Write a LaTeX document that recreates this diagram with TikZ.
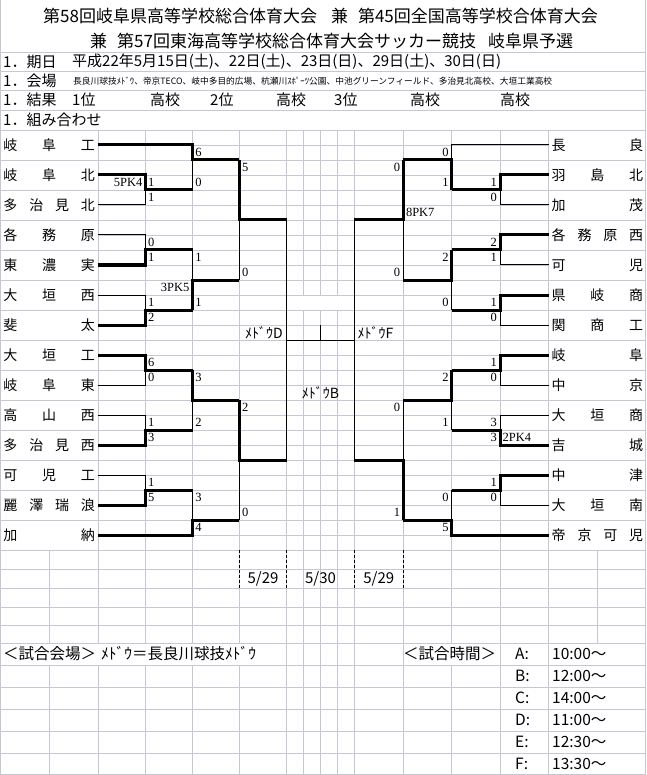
\documentclass[tikz,border=0pt]{standalone}
\usepackage{fontspec}
\setmainfont{Noto Sans CJK JP}
\newfontfamily\scorefont{Liberation Serif}
\definecolor{gridc}{RGB}{198,198,212}
\newcommand\spreadname[1]{\makebox[91.5pt]{#1}}
\begin{document}
\begin{tikzpicture}[x=1pt,y=-1pt,
  grid/.style={draw=gridc, line width=0.8pt},
  thk/.style={draw=black, line width=3pt},
  thn/.style={draw=black, line width=1pt},
  teamL/.style={anchor=west, minimum width=98pt, minimum height=30pt, inner sep=0pt, font=\fontsize{14}{16}\selectfont},
  teamR/.style={anchor=west, minimum width=97.5pt, minimum height=30pt, inner sep=0pt, font=\fontsize{14}{16}\selectfont},
  scL/.style={anchor=west, inner sep=0pt, font=\scorefont\fontsize{12.5}{13}\selectfont},
  scR/.style={anchor=east, inner sep=0pt, font=\scorefont\fontsize{12.5}{13}\selectfont},
  info/.style={anchor=west, inner sep=0pt, font=\fontsize{15}{17}\selectfont},
  lbl/.style={inner sep=0pt, font=\fontsize{14}{16}\selectfont},
  btm/.style={anchor=west, inner sep=0pt, font=\fontsize{15.5}{17}\selectfont},
  dashln/.style={draw=black, line width=0.8pt, dash pattern=on 3pt off 2pt}
]
\useasboundingbox (0,0) rectangle (646,775);
\fill[white] (0,0) rectangle (646,775);
% ---------- grid ----------
\foreach \yy in {52,71,90,110,130} \draw[grid] (0,\yy) -- (646,\yy);
\foreach \k in {1,...,14} {\draw[grid] (0,130+30*\k) -- (98,130+30*\k); \draw[grid] (548.5,130+30*\k) -- (646,130+30*\k);}
\foreach \j in {1,...,28} \draw[grid] (98,130+15*\j) -- (548.5,130+15*\j);
\foreach \xx in {98,145.5,192.7,239.3,286.7,354.3,403.3,451.7,500,548.5} \draw[grid] (\xx,130) -- (\xx,550);
\foreach \xx in {303.5,320.5,337.5} {\draw[grid] (\xx,130) -- (\xx,295); \draw[grid] (\xx,310) -- (\xx,550);}
\foreach \yy in {569,588,607,625,643,665,687,709,731,753,774} \draw[grid] (0,\yy) -- (646,\yy);
\foreach \xx in {49,98,145.5,192.7,239.3,286.7,303.5,320.5,337.5,354.3,403.3,451.7,500,548.5,597} \draw[grid] (\xx,550) -- (\xx,643);
\foreach \xx in {286.7,303.5,320.5,337.5,354.3,403.3,500,548.5} \draw[grid] (\xx,643) -- (\xx,665);
\foreach \xx in {49,98,145.5,192.7,239.3,286.7,303.5,320.5,337.5,354.3,403.3,451.7,500,548.5} \draw[grid] (\xx,665) -- (\xx,774);
\draw[grid] (0.5,0) -- (0.5,774);
\draw[grid] (645.5,0) -- (645.5,774);
% ---------- header ----------
\node[anchor=west, inner sep=0pt, font=\fontsize{17}{19}\selectfont] (title1) at (43,16.5) {第58回岐阜県高等学校総合体育大会\hspace{14pt}兼\hspace{10pt}第45回全国高等学校合体育大会};
\node[anchor=west, inner sep=0pt, font=\fontsize{17}{19}\selectfont] (title2) at (90,41) {兼\hspace{10pt}第57回東海高等学校総合体育大会サッカー競技\hspace{12pt}岐阜県予選};
\node[info] (k1) at (3,61.5) {1．期日};
\node[info] (k1v) at (72,61.5) {平成22年5月15日(土)、22日(土)、23日(日)、29日(土)、30日(日)};
\node[info] (k2) at (3,80.5) {1．会場};
\node[anchor=west, inner sep=0pt] (k2v) at (73,81) {\resizebox{479pt}{!}{\fontsize{10}{12}\selectfont 長良川球技ﾒﾄﾞｳ、帝京TECO、岐中多目的広場、杭瀬川ｽﾎﾟｰﾂ公園、中池グリーンフィールド、多治見北高校、大垣工業高校}};
\node[info] (k3) at (3,100) {1．結果};
\node[info] (r1) at (72,100) {1位};
\node[info] (hk1) at (150,100) {高校};
\node[info] (r2) at (210,100) {2位};
\node[info] (hk2) at (276,100) {高校};
\node[info] (r3) at (334,100) {3位};
\node[info] (hk3) at (410,100) {高校};
\node[info] (hk4) at (500,100) {高校};
\node[info] (k4) at (3,119.5) {1．組み合わせ};
% ---------- teams ----------
\node[teamL] (L0) at (0,145) {\spreadname{岐\hfill 阜\hfill 工}};
\node[teamL] (L1) at (0,175) {\spreadname{岐\hfill 阜\hfill 北}};
\node[teamL] (L2) at (0,205) {\spreadname{多\hfill 治\hfill 見\hfill 北}};
\node[teamL] (L3) at (0,235) {\spreadname{各\hfill 務\hfill 原}};
\node[teamL] (L4) at (0,265) {\spreadname{東\hfill 濃\hfill 実}};
\node[teamL] (L5) at (0,295) {\spreadname{大\hfill 垣\hfill 西}};
\node[teamL] (L6) at (0,325) {\spreadname{斐\hfill 太}};
\node[teamL] (L7) at (0,355) {\spreadname{大\hfill 垣\hfill 工}};
\node[teamL] (L8) at (0,385) {\spreadname{岐\hfill 阜\hfill 東}};
\node[teamL] (L9) at (0,415) {\spreadname{高\hfill 山\hfill 西}};
\node[teamL] (L10) at (0,445) {\spreadname{多\hfill 治\hfill 見\hfill 西}};
\node[teamL] (L11) at (0,475) {\spreadname{可\hfill 児\hfill 工}};
\node[teamL] (L12) at (0,505) {\spreadname{麗\hfill 澤\hfill 瑞\hfill 浪}};
\node[teamL] (L13) at (0,535) {\spreadname{加\hfill 納}};
\node[teamR] (R0) at (548.5,145) {\spreadname{長\hfill 良}};
\node[teamR] (R1) at (548.5,175) {\spreadname{羽\hfill 島\hfill 北}};
\node[teamR] (R2) at (548.5,205) {\spreadname{加\hfill 茂}};
\node[teamR] (R3) at (548.5,235) {\spreadname{各\hfill 務\hfill 原\hfill 西}};
\node[teamR] (R4) at (548.5,265) {\spreadname{可\hfill 児}};
\node[teamR] (R5) at (548.5,295) {\spreadname{県\hfill 岐\hfill 商}};
\node[teamR] (R6) at (548.5,325) {\spreadname{関\hfill 商\hfill 工}};
\node[teamR] (R7) at (548.5,355) {\spreadname{岐\hfill 阜}};
\node[teamR] (R8) at (548.5,385) {\spreadname{中\hfill 京}};
\node[teamR] (R9) at (548.5,415) {\spreadname{大\hfill 垣\hfill 商}};
\node[teamR] (R10) at (548.5,445) {\spreadname{吉\hfill 城}};
\node[teamR] (R11) at (548.5,475) {\spreadname{中\hfill 津}};
\node[teamR] (R12) at (548.5,505) {\spreadname{大\hfill 垣\hfill 南}};
\node[teamR] (R13) at (548.5,535) {\spreadname{帝\hfill 京\hfill 可\hfill 児}};
% ---------- junctions ----------
\coordinate (mA) at (145.5,190); \coordinate (mB) at (145.5,250); \coordinate (mC) at (145.5,310);
\coordinate (mD) at (145.5,370); \coordinate (mE) at (145.5,430); \coordinate (mF) at (145.5,490);
\coordinate (mG) at (192.7,160); \coordinate (mH) at (192.7,280); \coordinate (mI) at (192.7,400); \coordinate (mJ) at (192.7,520);
\coordinate (mK) at (239.3,220); \coordinate (mL) at (239.3,460);
\coordinate (mSL) at (286.7,340);
\coordinate (nA) at (500,190); \coordinate (nB) at (500,250); \coordinate (nC) at (500,310);
\coordinate (nD) at (500,370); \coordinate (nE) at (500,430); \coordinate (nF) at (500,490);
\coordinate (nG) at (451.7,160); \coordinate (nH) at (451.7,280); \coordinate (nI) at (451.7,400); \coordinate (nJ) at (451.7,520);
\coordinate (nK) at (403.3,220); \coordinate (nL) at (403.3,460);
\coordinate (mSR) at (354.3,340);
\coordinate (fin) at (320.5,340); \coordinate (fintop) at (320.5,325);
% ---------- left bracket ----------
\draw[thn] (L2.east) -| (mA);
\draw[thk] (L1.east) -| (mA) -- (mG |- mA);
\draw[thn] (mG |- mA) -- (mG);
\draw[thk] (L0.east) -| (mG) -- (mK |- mG);
\draw[thn] (L3.east) -| (mB);
\draw[thk] (L4.east) -| (mB) -- (mH |- mB);
\draw[thn] (L5.east) -| (mC);
\draw[thk] (L6.east) -| (mC) -- (mH |- mC);
\draw[thn] (mH |- mB) -- (mH);
\draw[thk] (mH |- mC) -- (mH) -- (mK |- mH);
\draw[thn] (mK |- mH) -- (mK);
\draw[thk] (mK |- mG) -- (mK) -- (mSL |- mK);
\draw[thn] (L8.east) -| (mD);
\draw[thk] (L7.east) -| (mD) -- (mI |- mD);
\draw[thn] (L9.east) -| (mE);
\draw[thk] (L10.east) -| (mE) -- (mI |- mE);
\draw[thn] (mI |- mE) -- (mI);
\draw[thk] (mI |- mD) -- (mI) -- (mL |- mI);
\draw[thn] (L11.east) -| (mF);
\draw[thk] (L12.east) -| (mF) -- (mJ |- mF);
\draw[thn] (mJ |- mF) -- (mJ);
\draw[thk] (L13.east) -| (mJ) -- (mL |- mJ);
\draw[thn] (mL |- mJ) -- (mL);
\draw[thk] (mL |- mI) -- (mL) -- (mSL |- mL);
\draw[thn] (mSL |- mK) -- (mSL |- mL);
% ---------- right bracket ----------
\draw[thn] (R2.west) -| (nA);
\draw[thk] (R1.west) -| (nA) -- (nG |- nA);
\draw[thn] (R0.west) -| (nG);
\draw[thk] (nG |- nA) -- (nG) -- (nK |- nG);
\draw[thn] (R4.west) -| (nB);
\draw[thk] (R3.west) -| (nB) -- (nH |- nB);
\draw[thn] (R6.west) -| (nC);
\draw[thk] (R5.west) -| (nC) -- (nH |- nC);
\draw[thn] (nH |- nC) -- (nH);
\draw[thk] (nH |- nB) -- (nH) -- (nK |- nH);
\draw[thn] (nK |- nH) -- (nK);
\draw[thk] (nK |- nG) -- (nK) -- (mSR |- nK);
\draw[thn] (R8.west) -| (nD);
\draw[thk] (R7.west) -| (nD) -- (nI |- nD);
\draw[thn] (R9.west) -| (nE);
\draw[thk] (R10.west) -| (nE) -- (nI |- nE);
\draw[thn] (nI |- nE) -- (nI);
\draw[thk] (nI |- nD) -- (nI) -- (nL |- nI);
\draw[thn] (R12.west) -| (nF);
\draw[thk] (R11.west) -| (nF) -- (nJ |- nF);
\draw[thn] (nJ |- nF) -- (nJ);
\draw[thk] (R13.west) -| (nJ) -- (nL |- nJ);
\draw[thn] (nL |- nI) -- (nL);
\draw[thk] (nL |- nJ) -- (nL) -- (mSR |- nL);
\draw[thn] (mSR |- nK) -- (mSR |- nL);
% ---------- final ----------
\draw[thn] (mSL) -- (mSR);
\draw[thn] (fin) -- (fintop);
\node[lbl, anchor=east] (vD) at (283,332.5) {ﾒﾄﾞｳD};
\node[lbl, anchor=west] (vF) at (357.5,332.5) {ﾒﾄﾞｳF};
\node[lbl] (vB) at (320.5,392.5) {ﾒﾄﾞｳB};
% ---------- scores left ----------
\node[scL] (sa1) at (148,182.5) {1}; \node[scL] (sa2) at (148,197.5) {1}; \node[scR] (pa) at (142.5,182.5) {5PK4};
\node[scL] (sb1) at (148,242.5) {0}; \node[scL] (sb2) at (148,257.5) {1};
\node[scL] (sc1) at (148,302.5) {1}; \node[scL] (sc2) at (148,317.5) {2};
\node[scL] (sd1) at (148,362.5) {6}; \node[scL] (sd2) at (148,377.5) {0};
\node[scL] (se1) at (148,422.5) {1}; \node[scL] (se2) at (148,437.5) {3};
\node[scL] (sf1) at (148,482.5) {1}; \node[scL] (sf2) at (148,497.5) {5};
\node[scL] (sg1) at (195.2,152.5) {6}; \node[scL] (sg2) at (195.2,182.5) {0};
\node[scL] (sh1) at (195.2,257.5) {1}; \node[scL] (sh2) at (195.2,302.5) {1}; \node[scR] (ph) at (189.5,287.5) {3PK5};
\node[scL] (si1) at (195.2,377.5) {3}; \node[scL] (si2) at (195.2,422.5) {2};
\node[scL] (sj1) at (195.2,497.5) {3}; \node[scL] (sj2) at (195.2,527.5) {4};
\node[scL] (sk1) at (241.8,167.5) {5}; \node[scL] (sk2) at (241.8,272.5) {0};
\node[scL] (sl1) at (241.8,407.5) {2}; \node[scL] (sl2) at (241.8,512.5) {0};
% ---------- scores right ----------
\node[scR] (ra1) at (497,182.5) {1}; \node[scR] (ra2) at (497,197.5) {0};
\node[scR] (rb1) at (497,242.5) {2}; \node[scR] (rb2) at (497,257.5) {1};
\node[scR] (rc1) at (497,302.5) {1}; \node[scR] (rc2) at (497,317.5) {0};
\node[scR] (rd1) at (497,362.5) {1}; \node[scR] (rd2) at (497,377.5) {0};
\node[scR] (re1) at (497,422.5) {3}; \node[scR] (re2) at (497,437.5) {3}; \node[scL] (pe) at (502.5,437.5) {2PK4};
\node[scR] (rf1) at (497,482.5) {1}; \node[scR] (rf2) at (497,497.5) {0};
\node[scR] (rg1) at (448.7,152.5) {0}; \node[scR] (rg2) at (448.7,182.5) {1};
\node[scR] (rh1) at (448.7,257.5) {2}; \node[scR] (rh2) at (448.7,302.5) {0};
\node[scR] (ri1) at (448.7,377.5) {2}; \node[scR] (ri2) at (448.7,422.5) {1};
\node[scR] (rj1) at (448.7,497.5) {0}; \node[scR] (rj2) at (448.7,527.5) {5};
\node[scR] (rk1) at (400.3,167.5) {0}; \node[scR] (rk2) at (400.3,272.5) {0}; \node[scL] (pk) at (405.8,212.5) {8PK7};
\node[scR] (rl1) at (400.3,407.5) {0}; \node[scR] (rl2) at (400.3,512.5) {1};
% ---------- dates ----------
\draw[dashln] (239.3,550) -- (239.3,588);
\draw[dashln] (286.7,550) -- (286.7,588);
\draw[dashln] (354.3,550) -- (354.3,588);
\draw[dashln] (403.3,550) -- (403.3,588);
\node[lbl, font=\fontsize{15}{17}\selectfont] (d1) at (263,578.5) {5/29};
\node[lbl, font=\fontsize{15}{17}\selectfont] (d2) at (320.5,578.5) {5/30};
\node[lbl, font=\fontsize{15}{17}\selectfont] (d3) at (378.8,578.5) {5/29};
% ---------- bottom ----------
\node[btm] (b1) at (3,654) {＜試合会場＞};
\node[btm] (b2) at (101,654) {ﾒﾄﾞｳ＝長良川球技ﾒﾄﾞｳ};
\node[btm] (b3) at (403,654) {＜試合時間＞};
\node[btm] (tA) at (515,654) {A:}; \node[btm] (vA) at (552,654) {10:00～};
\node[btm] (tB) at (515,676) {B:}; \node[btm] (vB2) at (552,676) {12:00～};
\node[btm] (tC) at (515,698) {C:}; \node[btm] (vC) at (552,698) {14:00～};
\node[btm] (tD) at (515,720) {D:}; \node[btm] (vD2) at (552,720) {11:00～};
\node[btm] (tE) at (515,742) {E:}; \node[btm] (vE) at (552,742) {12:30～};
\node[btm] (tF) at (515,763.5) {F:}; \node[btm] (vF2) at (552,763.5) {13:30～};
\end{tikzpicture}
\end{document}
